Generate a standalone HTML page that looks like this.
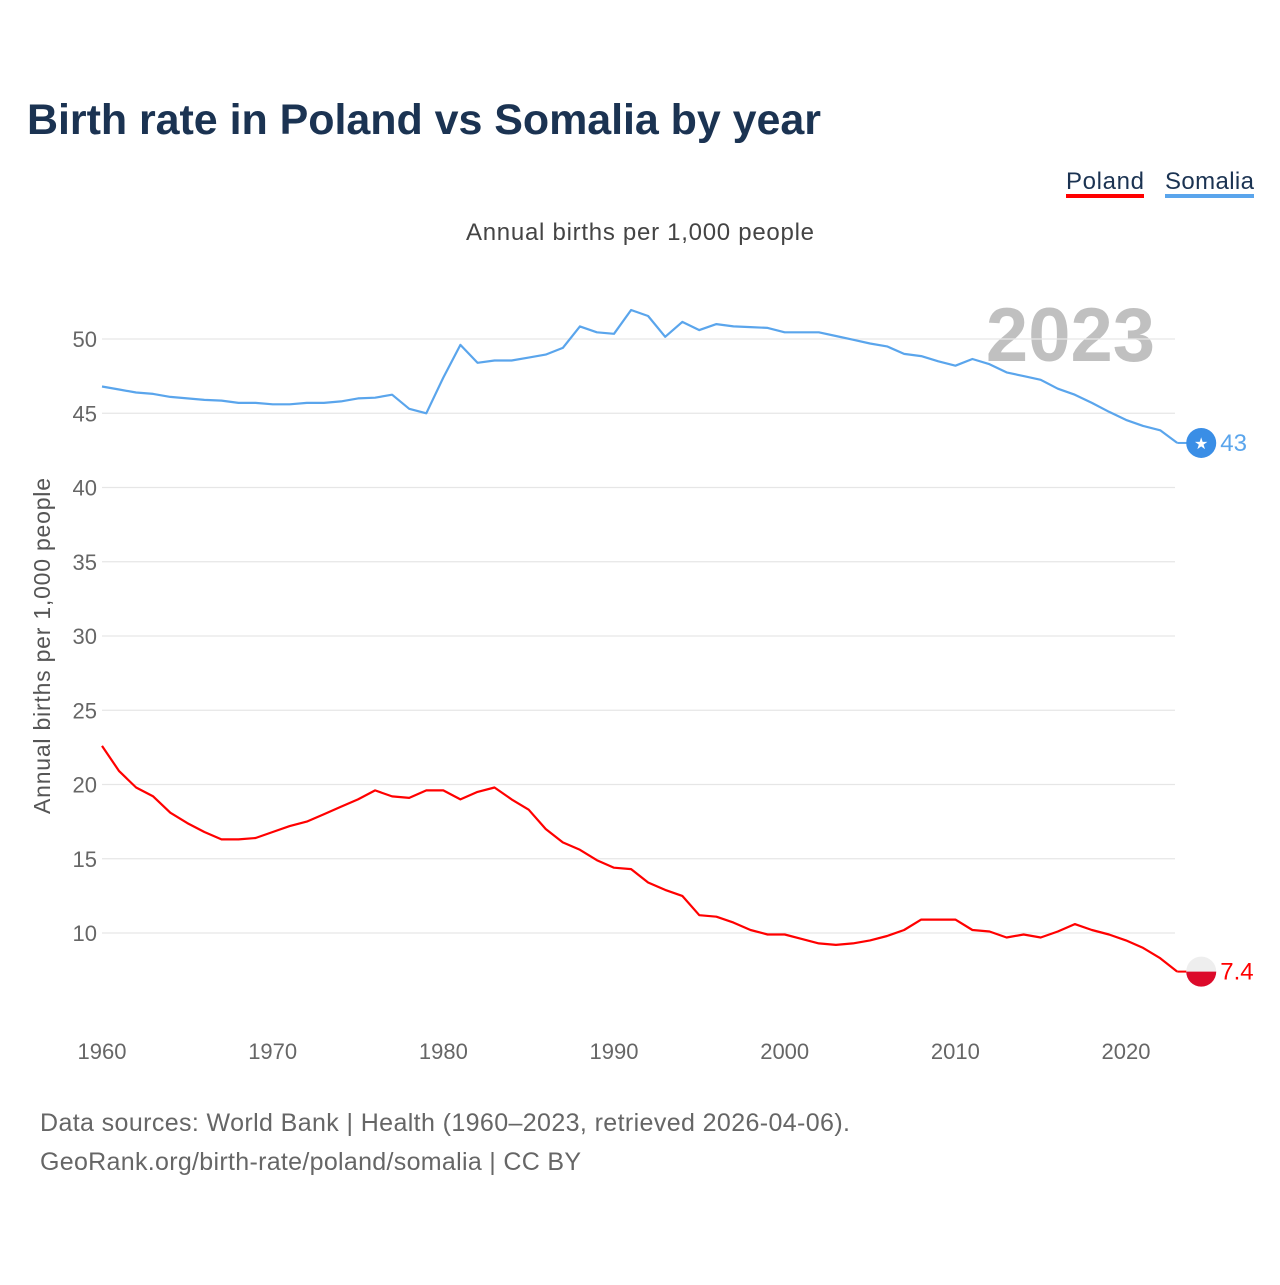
<!DOCTYPE html>
<html><head><meta charset="utf-8"><style>
body{margin:0;background:#fff;font-family:"Liberation Sans",sans-serif;}
svg text{font-family:"Liberation Sans",sans-serif;}
</style></head><body>
<svg id="chart" width="1280" height="1280" xmlns="http://www.w3.org/2000/svg">
<text x="27" y="134" font-size="43" font-weight="bold" fill="#1b3352" textLength="794">Birth rate in Poland vs Somalia by year</text>
<g>
<text x="1066" y="189" font-size="24" fill="#1b3352" textLength="78">Poland</text>
<rect x="1066" y="194" width="78" height="4" fill="#ff0000"/>
<text x="1165" y="189" font-size="24" fill="#1b3352" textLength="89">Somalia</text>
<rect x="1165" y="194" width="89" height="4" fill="#5aa5ec"/>
</g>
<text x="640" y="240" font-size="24" fill="#444" text-anchor="middle" textLength="348">Annual births per 1,000 people</text>
<text x="1155" y="361" font-size="76" font-weight="bold" fill="#c0c0c0" text-anchor="end">2023</text>
<text transform="translate(50,646) rotate(-90)" font-size="23" fill="#555" text-anchor="middle" textLength="336">Annual births per 1,000 people</text>
<g id="grid"></g><g id="xt"></g><g id="lines"></g>
<text x="40" y="1131" font-size="25" fill="#666" textLength="810">Data sources: World Bank | Health (1960–2023, retrieved 2026-04-06).</text>
<text x="40" y="1170" font-size="25" fill="#666" textLength="541">GeoRank.org/birth-rate/poland/somalia | CC BY</text>
</svg>
<script>
const years=[];for(let y=1960;y<=2023;y++)years.push(y);
const somalia=[46.8,46.6,46.4,46.3,46.1,46.0,45.9,45.85,45.7,45.7,45.6,45.6,45.7,45.7,45.8,46.0,46.05,46.25,45.3,45.0,47.4,49.6,48.4,48.55,48.55,48.75,48.95,49.4,50.85,50.45,50.35,51.95,51.55,50.15,51.15,50.6,51.0,50.85,50.8,50.75,50.45,50.45,50.45,50.2,49.95,49.7,49.5,49.0,48.85,48.5,48.2,48.65,48.3,47.75,47.5,47.25,46.65,46.25,45.7,45.1,44.55,44.15,43.85,43.0];
const poland=[22.6,20.9,19.8,19.2,18.1,17.4,16.8,16.3,16.3,16.4,16.8,17.2,17.5,18.0,18.5,19.0,19.6,19.2,19.1,19.6,19.6,19.0,19.5,19.8,19.0,18.3,17.0,16.1,15.6,14.9,14.4,14.3,13.4,12.9,12.5,11.2,11.1,10.7,10.2,9.9,9.9,9.6,9.3,9.2,9.3,9.5,9.8,10.2,10.9,10.9,10.9,10.2,10.1,9.7,9.9,9.7,10.1,10.6,10.2,9.9,9.5,9.0,8.3,7.4];
const yTicks=[10,15,20,25,30,35,40,45,50];
const xTicks=[1960,1970,1980,1990,2000,2010,2020];
const NS="http://www.w3.org/2000/svg";
const X=y=>102+(y-1960)*17.067;
const Y=v=>933-(v-10)*14.85;
function mk(t,a,p){const e=document.createElementNS(NS,t);for(const k in a)e.setAttribute(k,a[k]);p.appendChild(e);return e;}
const grid=document.getElementById('grid'),xt=document.getElementById('xt'),lines=document.getElementById('lines');
yTicks.forEach(v=>{
 const l=mk('line',{x1:102,x2:1175,y1:Y(v),y2:Y(v),stroke:'#e6e6e6','stroke-width':1.3},grid);
 
 
 const t=mk('text',{x:97,y:Y(v)+8,'font-size':22,fill:'#666','text-anchor':'end'},grid);t.textContent=v;
 
 
});
xTicks.forEach(v=>{
 const t=mk('text',{x:X(v),y:1059,'font-size':22,fill:'#666','text-anchor':'middle'},xt);t.textContent=v;
 
 
});
function series(vals,color,name){
 const d=vals.map((v,i)=>(i?'L':'M')+X(years[i]).toFixed(1)+','+Y(v).toFixed(1)).join('');
 const p=mk('path',{d:d,fill:'none',stroke:color,'stroke-width':2.2,'stroke-linejoin':'round'},lines);
 
 
}
series(somalia,'#5aa5ec','somalia');
series(poland,'#ff0000','poland');
const sl=somalia[somalia.length-1],pl=poland[poland.length-1],lx=X(2023);
mk('line',{x1:lx,x2:lx+12,y1:Y(sl),y2:Y(sl),stroke:'#5aa5ec','stroke-width':2},lines);
const sm=mk('circle',{cx:lx+24,cy:Y(sl),r:15,fill:'#3a8ee6'},lines);


const st=mk('text',{x:lx+24,y:Y(sl)+6,'font-size':16,fill:'#fff','text-anchor':'middle'},lines);st.textContent='★';
const sv=mk('text',{x:lx+43,y:Y(sl)+8,'font-size':24,fill:'#5aa5ec'},lines);sv.textContent=sl;


mk('line',{x1:lx,x2:lx+12,y1:Y(pl),y2:Y(pl),stroke:'#ff0000','stroke-width':2},lines);
const cy=Y(pl);
const pm=mk('circle',{cx:lx+24,cy:cy,r:15,fill:'#eeeeee'},lines);


mk('path',{d:`M${lx+9},${cy} A15,15 0 0 0 ${lx+39},${cy} Z`,fill:'#dc0a2a'},lines);
const pv=mk('text',{x:lx+43,y:cy+8,'font-size':24,fill:'#ff0000'},lines);pv.textContent=pl;


</script>
</body></html>
